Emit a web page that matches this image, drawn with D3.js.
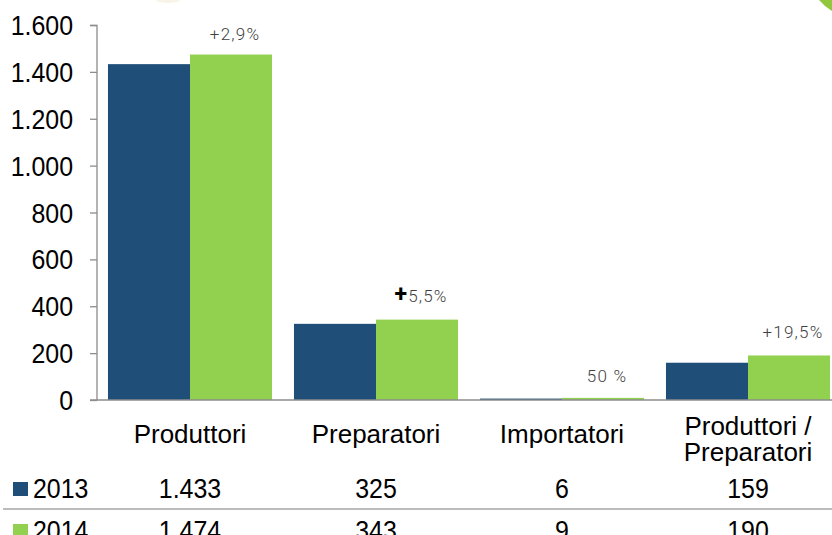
<!DOCTYPE html>
<html><head><meta charset="utf-8">
<script src="https://cdn.jsdelivr.net/npm/d3@7"></script>
<style>
html,body{margin:0;padding:0;background:#fff;overflow:hidden}
svg{display:block}
</style></head>
<body>
<svg id="chart" width="832" height="535"></svg>
<script>
const categories = ["Produttori", "Preparatori", "Importatori", "Produttori / Preparatori"];
const categoryLines = [["Produttori"], ["Preparatori"], ["Importatori"], ["Produttori /", "Preparatori"]];
const seriesNames = ["2013", "2014"];
const values2013 = [1433, 325, 6, 159];
const values2014 = [1474, 343, 9, 190];
const changeLabels = ["+2,9%", "+5,5%", "50 %", "+19,5%"];
const yTicks = [0, 200, 400, 600, 800, 1000, 1200, 1400, 1600];
const colors = ["#1f4e79", "#92d050"];

const svg = d3.select("#chart");
const locale = d3.formatLocale({decimal: ",", thousands: ".", grouping: [3], currency: ["", "€"]});
const fmt = locale.format(",d");

const x = d3.scaleBand().domain(categories).range([97, 841]).paddingInner(0.118).paddingOuter(0.059);
const xs = d3.scaleBand().domain(seriesNames).range([0, x.bandwidth()]);
const y = d3.scaleLinear().domain([0, 1600]).range([400, 25]);

// decorations
svg.append("ellipse").attr("cx", 168).attr("cy", 0).attr("rx", 12).attr("ry", 3).attr("fill", "#f8f5e8");
svg.append("path").attr("d", "M819,0 L832,0 L832,11 Q825,7 819,0 Z").attr("fill", "#92c83e");

// bars
const series = [values2013, values2014];
series.forEach((vals, si) => {
  svg.append("g").selectAll("rect").data(categories).join("rect")
    .attr("x", (c) => x(c) + xs(seriesNames[si]))
    .attr("y", (c, i) => y(vals[i]))
    .attr("width", xs.bandwidth())
    .attr("height", (c, i) => y(0) - y(vals[i]))
    .attr("fill", colors[si]);
});

// y axis
const yAxis = d3.axisLeft(y).tickValues(yTicks).tickSize(7).tickFormat("");
const gy = svg.append("g").attr("transform", "translate(97,0)").call(yAxis);
gy.select(".domain").attr("stroke", "#8c8c8c").attr("stroke-width", 1.3).attr("d", "M-7,25.5H0V400");
gy.selectAll(".tick line").attr("stroke", "#8c8c8c").attr("stroke-width", 1.3);
yTicks.forEach(t => {
  svg.append("text")
    .attr("transform", `translate(73,${y(t) + 10}) scale(0.89,1)`)
    .attr("text-anchor", "end")
    .attr("font-family", "Liberation Sans, Arial, sans-serif")
    .attr("font-size", 28).attr("fill", "#000")
    .text(fmt(t));
});

// x axis line
svg.append("line").attr("x1", 90).attr("x2", 832).attr("y1", y(0)).attr("y2", y(0))
  .attr("stroke", "#8c8c8c").attr("stroke-width", 1.5);

// category labels
categories.forEach((c, i) => {
  const lines = categoryLines[i];
  const cx = x(c) + x.bandwidth() / 2;
  const t = svg.append("text").attr("text-anchor", "middle")
    .attr("font-family", "Liberation Sans, Arial, sans-serif")
    .attr("font-size", 26).attr("fill", "#000");
  if (lines.length === 1) {
    t.append("tspan").attr("x", cx).attr("y", 443).text(lines[0]);
  } else {
    lines.forEach((l, k) => t.append("tspan").attr("x", cx).attr("y", 435 + k * 26).text(l));
  }
});

// change annotations
const annY = [40, 302, 382, 338];
changeLabels.forEach((lab, i) => {
  const cx = x(categories[i]) + xs(seriesNames[1]) + xs.bandwidth() / 2 + 4;
  const t = svg.append("text").attr("x", cx).attr("y", annY[i]).attr("text-anchor", "middle")
    .attr("font-family", "Roboto, 'Open Sans', sans-serif").attr("font-weight", 300)
    .attr("font-size", 17).attr("letter-spacing", "1.2px").attr("fill", "#404040");
  if (i === 1) {
    t.append("tspan").attr("font-weight", 700).attr("font-size", 23).attr("fill", "#000").text("+");
    t.append("tspan").text(lab.slice(1));
  } else {
    t.text(lab);
  }
});

// data table
const rowBase = [498, 540];
series.forEach((vals, si) => {
  svg.append("rect").attr("x", 13).attr("y", rowBase[si] - 16).attr("width", 15).attr("height", 14).attr("fill", colors[si]);
  svg.append("text")
    .attr("transform", `translate(33,${rowBase[si]}) scale(0.89,1)`)
    .attr("font-family", "Liberation Sans, Arial, sans-serif")
    .attr("font-size", 28).attr("fill", "#000").text(seriesNames[si]);
  categories.forEach((c, i) => {
    svg.append("text")
      .attr("transform", `translate(${x(c) + x.bandwidth() / 2},${rowBase[si]}) scale(0.89,1)`)
      .attr("text-anchor", "middle")
      .attr("font-family", "Liberation Sans, Arial, sans-serif")
      .attr("font-size", 28).attr("fill", "#000").text(fmt(vals[i]));
  });
});
svg.append("line").attr("x1", 3).attr("x2", 832).attr("y1", 509).attr("y2", 509)
  .attr("stroke", "#a6a6a6").attr("stroke-width", 1.5);
</script>
</body></html>
